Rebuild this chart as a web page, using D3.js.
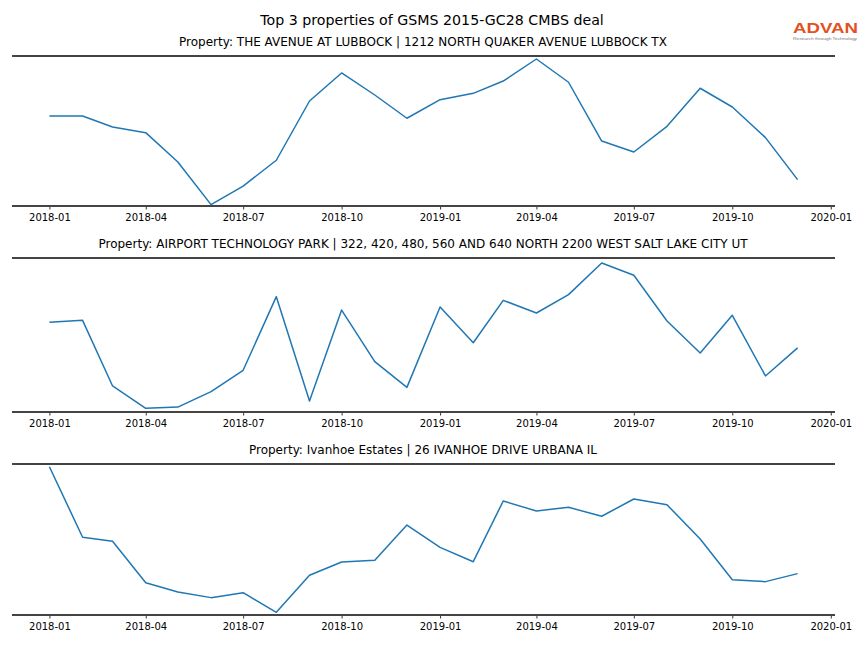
<!DOCTYPE html>
<html>
<head>
<meta charset="utf-8">
<script src="https://cdn.jsdelivr.net/npm/d3@7"></script>
<style>
body{margin:0;background:#fff;}
svg{display:block;font-family:"DejaVu Sans",sans-serif;}
</style>
</head>
<body>
<svg id="chart" width="864" height="648"></svg>
<script>
// Months observed (monthly, 2018-01 .. 2019-12)
const months = ["2018-01","2018-02","2018-03","2018-04","2018-05","2018-06","2018-07","2018-08","2018-09","2018-10","2018-11","2018-12",
                "2019-01","2019-02","2019-03","2019-04","2019-05","2019-06","2019-07","2019-08","2019-09","2019-10","2019-11","2019-12"];
const tickLabels = ["2018-01","2018-04","2018-07","2018-10","2019-01","2019-04","2019-07","2019-10","2020-01"];
const chartTitle = "Top 3 properties of GSMS 2015-GC28 CMBS deal";
const propertyTitles = [
  "Property: THE AVENUE AT LUBBOCK | 1212 NORTH QUAKER AVENUE LUBBOCK TX",
  "Property: AIRPORT TECHNOLOGY PARK | 322, 420, 480, 560 AND 640 NORTH 2200 WEST SALT LAKE CITY UT",
  "Property: Ivanhoe Estates | 26 IVANHOE DRIVE URBANA IL"
];
// Relative activity index (y-axis hidden in the original)
const avenueLubbock = [60.0,60.0,52.7,48.9,29.3,0.9,13.3,30.5,70.0,88.7,74.0,58.5,
                       70.9,75.1,83.3,98.0,82.5,43.3,36.0,53.1,78.5,66.0,45.6,17.6];
const airportTechPark = [58.2,59.5,16.9,2.4,3.2,13.2,27.1,74.9,7.1,66.2,32.7,16.0,
                         68.2,45.0,72.5,64.3,76.2,96.8,88.8,59.1,38.3,62.8,23.4,41.6];
const ivanhoeEstates = [98.2,51.5,48.8,21.4,15.2,11.5,14.8,1.8,26.3,35.1,36.2,59.6,
                        44.8,35.3,75.5,68.9,71.3,65.4,76.8,73.0,50.3,23.4,22.1,27.4];
const seriesList = [avenueLubbock, airportTechPark, ivanhoeEstates];

const svg = d3.select("#chart");
const parse = d3.utcParse("%Y-%m");
const dates = months.map(parse);
const tickDates = tickLabels.map(parse);

// x domain with 5% margins like the original
const t0 = dates[0].getTime(), t1 = dates[dates.length-1].getTime();
const pad = (t1 - t0) * 0.05;
const x = d3.scaleUtc().domain([new Date(t0 - pad), new Date(t1 + pad)]).range([12, 835]);

const panels = [
  {top: 56, bottom: 206},
  {top: 258, bottom: 412},
  {top: 464, bottom: 615}
];

svg.append("text").attr("x", 432).attr("y", 25).attr("text-anchor", "middle")
  .attr("font-size", 14.2).attr("fill", "#000").text(chartTitle);

// logo
const logo = svg.append("g");
logo.append("text").attr("x", 793).attr("y", 33)
  .attr("font-family", "Liberation Sans, Arial, sans-serif").attr("font-weight", "bold")
  .attr("font-size", 15.5).attr("fill", "#e4501e")
  .attr("textLength", 65).attr("lengthAdjust", "spacingAndGlyphs").text("ADVAN");
logo.append("text").attr("x", 793).attr("y", 39.5)
  .attr("font-family", "Liberation Sans, Arial, sans-serif")
  .attr("font-size", 4).attr("fill", "#777")
  .attr("textLength", 64).attr("lengthAdjust", "spacingAndGlyphs").text("Research through Technology");

panels.forEach((p, i) => {
  const data = seriesList[i];
  const y = d3.scaleLinear().domain([0, 100]).range([p.bottom, p.top]);
  const g = svg.append("g");

  g.append("text").attr("x", 423).attr("y", p.top - 10).attr("text-anchor", "middle")
    .attr("font-size", 12).attr("fill", "#000").text(propertyTitles[i]);

  const line = d3.line().x((d, k) => x(dates[k])).y(d => y(d));
  g.append("path").datum(data).attr("d", line)
    .attr("fill", "none").attr("stroke", "#1f77b4").attr("stroke-width", 1.5)
    .attr("stroke-linejoin", "round");

  // spines
  g.append("line").attr("x1", 12).attr("x2", 835).attr("y1", p.top).attr("y2", p.top)
    .attr("stroke", "#444").attr("stroke-width", 2);

  const ax = g.append("g").attr("transform", `translate(0,${p.bottom})`)
    .call(d3.axisBottom(x).tickValues(tickDates).tickFormat(d3.utcFormat("%Y-%m"))
      .tickSize(3.5).tickPadding(4));
  ax.select(".domain").remove();
  ax.selectAll(".tick line").attr("stroke", "#000").attr("stroke-width", 0.8);
  ax.selectAll(".tick text").attr("font-size", 10).attr("fill", "#000")
    .attr("font-family", "DejaVu Sans, sans-serif");

  g.append("line").attr("x1", 12).attr("x2", 835).attr("y1", p.bottom).attr("y2", p.bottom)
    .attr("stroke", "#444").attr("stroke-width", 2);
});
</script>
</body>
</html>
